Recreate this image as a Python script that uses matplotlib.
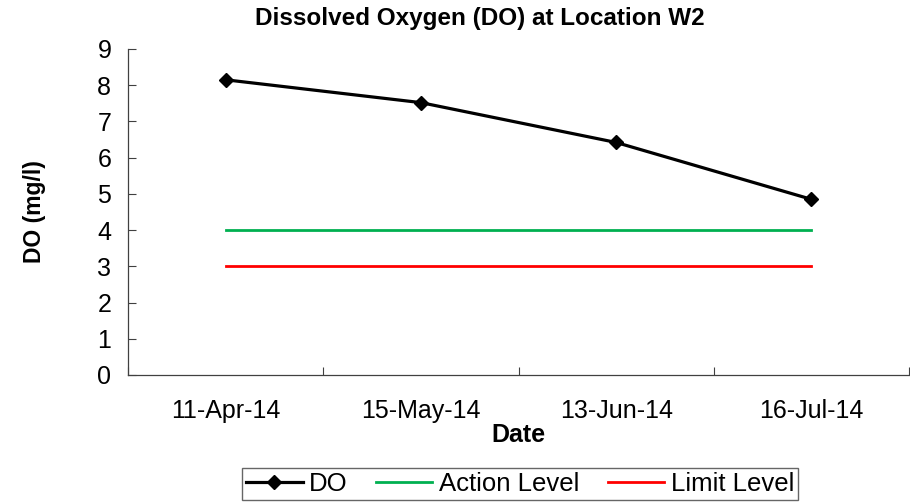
import matplotlib
matplotlib.use("Agg")
from matplotlib import pyplot as plt

dates = ["11-Apr-14", "15-May-14", "13-Jun-14", "16-Jul-14"]
do_values = [8.15, 7.52, 6.42, 4.85]
action_level = [4, 4, 4, 4]
limit_level = [3, 3, 3, 3]

plt.rcParams["font.family"] = ["Liberation Sans", "DejaVu Sans"]


def main():
    fig = plt.figure(figsize=(9.1, 5.03), dpi=100)
    ax = fig.add_axes([128 / 910, 1 - 375 / 503, 781 / 910, 326 / 503])

    xs = list(range(1, len(dates) + 1))
    ax.plot(xs, do_values, color="black", linewidth=2.3, marker="D",
            markersize=7.5, label="DO", zorder=3)
    ax.plot(xs, action_level, color="#00B050", linewidth=2.0, label="Action Level")
    ax.plot(xs, limit_level, color="#FF0000", linewidth=2.0, label="Limit Level")

    ax.set_xlim(0.5, len(dates) + 0.5)
    ax.set_ylim(0, 9)
    ax.set_yticks(range(0, 10))
    ax.set_xticks([x + 0.5 for x in range(len(dates) + 1)])
    ax.set_xticklabels([])
    ax.set_xticks(xs, dates, minor=True)
    ax.tick_params(axis="x", which="minor", length=0, pad=17, labelsize=18)
    ax.tick_params(axis="x", which="major", direction="in", length=6,
                   width=0.8, color="#404040")
    ax.tick_params(axis="y", direction="in", length=6, width=0.8,
                   color="#404040", labelsize=18, pad=12)

    for side in ("top", "right"):
        ax.spines[side].set_visible(False)
    for side in ("left", "bottom"):
        ax.spines[side].set_color("#404040")
        ax.spines[side].set_linewidth(0.9)

    ax.set_xlabel("Date", fontsize=18, fontweight="bold", labelpad=0)
    ax.set_ylabel("DO (mg/l)", fontsize=16.5, fontweight="bold", labelpad=37)
    fig.text(480 / 910, 1 - 18 / 503, "Dissolved Oxygen (DO) at Location W2",
             ha="center", va="center", fontsize=17.5, fontweight="bold")

    leg = fig.legend(loc="center", bbox_to_anchor=(520 / 910, 1 - 484 / 503),
                     ncol=3, fontsize=18.5, frameon=True, fancybox=False,
                     handlelength=2.2, handletextpad=0.25, columnspacing=1.1,
                     borderpad=0.15, borderaxespad=0.0, edgecolor="#404040")
    leg.get_frame().set_linewidth(1.0)

    fig.savefig("out.png", dpi=100)


if __name__ == "__main__":
    main()
